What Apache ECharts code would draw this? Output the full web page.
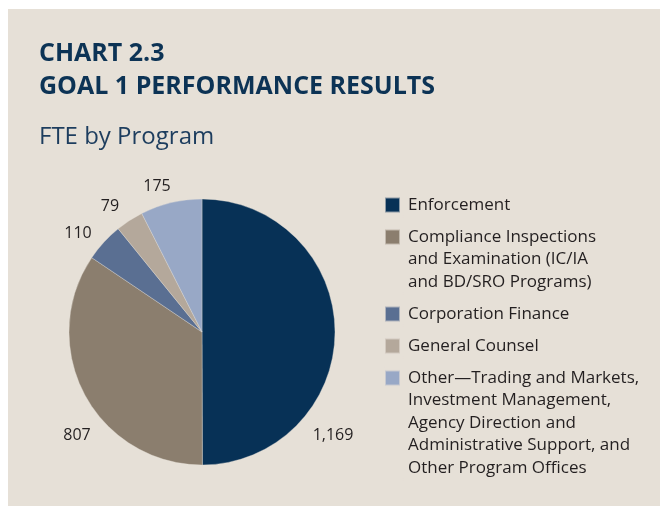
<!DOCTYPE html>
<html>
<head>
<meta charset="utf-8">
<script src="https://cdn.jsdelivr.net/npm/echarts@6/dist/echarts.min.js"></script>
<style>
  html, body { margin: 0; padding: 0; background: #fff; }
  #chart { width: 660px; height: 506px; }
</style>
</head>
<body>
<div id="chart"></div>
<script>
// FTE by program
const programs = [
  'Enforcement',
  'Compliance Inspections\nand Examination (IC/IA\nand BD/SRO Programs)',
  'Corporation Finance',
  'General Counsel',
  'Other\u2014Trading and Markets,\nInvestment Management,\nAgency Direction and\nAdministrative Support, and\nOther Program Offices'
]
const fteValues = [1169, 807, 110, 79, 175]
const sliceColors = ['#073156', '#8b7e6e', '#5a6f92', '#b4a89b', '#98a8c6']
// where the value labels sit
const labelPos = [[333, 435], [77, 435], [78, 233], [110, 206], [157, 186]]

const LINE_H = 22.5
const LEGEND_TOP = 204 - LINE_H / 2
const LEGEND_GAP = 9.5
const FONT = '"Open Sans", "Noto Sans", sans-serif'

// square on the first text line, invisible dots stretch the box to the full text height
function keyIcon (lines) {
  const h = lines * LINE_H
  const a = (LINE_H - 15) / 2
  return 'path://M0,' + a + 'H15V' + (a + 15) + 'H0Z' +
    'M0,0h0.01v0.01h-0.01Z' +
    'M18,' + (h - 0.01) + 'h0.01v0.01h-0.01Z'
}

const chart = echarts.init(document.getElementById('chart'))

// one legend per entry so the key square sits on the first line
const legends = []
let legendTop = LEGEND_TOP
programs.forEach(function (name) {
  const n = name.split('\n').length
  legends.push({
    orient: 'vertical',
    left: 384,
    top: legendTop,
    padding: 0,
    itemWidth: 18,
    itemHeight: n * LINE_H,
    icon: keyIcon(n),
    selectedMode: false,
    textStyle: {
      fontFamily: FONT,
      fontSize: 17,
      lineHeight: LINE_H,
      color: '#231f20'
    },
    data: [name]
  })
  legendTop += n * LINE_H + LEGEND_GAP
})

const option = {
  animation: false,
  textStyle: { fontFamily: FONT },
  graphic: [
    {
      type: 'rect',
      silent: true,
      shape: { x: 8, y: 9, width: 652, height: 497 },
      style: { fill: '#e6e0d7' },
      z: -10
    }
  ],
  title: [
    {
      text: 'CHART 2.3\nGOAL 1 PERFORMANCE RESULTS',
      left: 39,
      top: 37,
      padding: 0,
      textStyle: {
        fontFamily: FONT,
        fontWeight: 'bold',
        fontSize: 25,
        lineHeight: 33,
        color: '#0c3355'
      }
    },
    {
      text: 'FTE by Program',
      left: 39,
      top: 122,
      padding: 0,
      textStyle: {
        fontFamily: FONT,
        fontWeight: 'normal',
        fontSize: 24,
        lineHeight: 30,
        color: '#1d3d5e'
      }
    }
  ],
  legend: legends,
  series: [
    {
      type: 'pie',
      center: [202, 332],
      radius: 133,
      startAngle: 90,
      clockwise: true,
      color: sliceColors,
      itemStyle: {
        borderColor: 'rgba(230,224,215,0.6)',
        borderWidth: 0.6
      },
      emphasis: { disabled: true },
      label: {
        show: true,
        position: 'outside',
        overflow: 'none',
        fontFamily: FONT,
        fontSize: 16,
        color: '#231f20',
        formatter: function (p) {
          return p.value.toLocaleString('en-US')
        }
      },
      labelLine: { show: false },
      labelLayout: function (p) {
        return {
          x: labelPos[p.dataIndex][0],
          y: labelPos[p.dataIndex][1],
          align: 'center',
          verticalAlign: 'middle'
        }
      },
      data: programs.map(function (name, i) {
        return { name: name, value: fteValues[i] }
      })
    }
  ]
}

chart.setOption(option)
</script>
</body>
</html>
